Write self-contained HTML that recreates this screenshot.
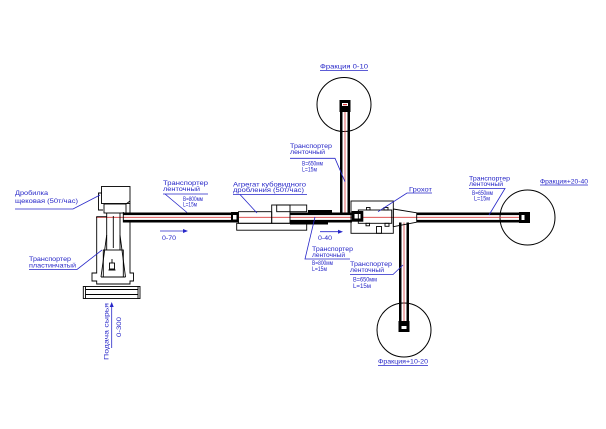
<!DOCTYPE html>
<html><head><meta charset="utf-8"><style>
html,body{margin:0;padding:0;background:#fff;}
svg{display:block;}
text{font-family:"Liberation Sans",sans-serif;font-size:6.2px;fill:#2626c8;}
</style></head><body>
<svg width="606" height="429" viewBox="0 0 606 429" xmlns="http://www.w3.org/2000/svg">
<rect width="606" height="429" fill="#fff"/>

<!-- circles -->
<g fill="none" stroke="#000" stroke-width="1">
<circle cx="344" cy="104.5" r="27"/>
<circle cx="527.5" cy="217.5" r="27.5"/>
<circle cx="404" cy="330" r="27"/>
</g>

<!-- horizontal conveyors -->
<g fill="#000">
<rect x="123" y="212.5" width="108" height="2.6"/>
<rect x="123" y="219.9" width="108" height="2.6"/>
<rect x="290" y="212.5" width="62" height="2.6"/>
<rect x="290" y="219.9" width="62" height="2.6"/>
<rect x="308" y="210" width="24" height="3"/>
<rect x="290" y="222" width="38" height="2.5"/>
<rect x="416.7" y="212.5" width="103" height="2.6"/>
<rect x="416.7" y="219.9" width="103" height="2.6"/>
<!-- vertical top -->
<rect x="340" y="100" width="2.5" height="112.5"/>
<rect x="347.5" y="100" width="2.5" height="112.5"/>
<!-- vertical bottom -->
<rect x="399" y="222.5" width="2.5" height="109"/>
<rect x="406.5" y="222.5" width="2.5" height="109"/>
</g>
<!-- red centerlines -->
<g stroke="#d83a3a" stroke-width="0.8" fill="none">
<line x1="96" y1="217.3" x2="530" y2="217.3"/>
<line x1="345" y1="100" x2="345" y2="212.5"/>
<line x1="404" y1="222.5" x2="404" y2="332"/>
</g>

<!-- end caps -->
<g>
<rect x="339.5" y="100" width="11" height="12" fill="#000"/>
<rect x="342" y="103" width="6" height="3" fill="#fff"/>
<rect x="343" y="104" width="4" height="1.2" fill="#d83a3a"/>
<rect x="519" y="212" width="11" height="11" fill="#000"/>
<rect x="521.5" y="215" width="3" height="5" fill="#fff"/>
<rect x="398.5" y="321" width="11" height="11" fill="#000"/>
<rect x="401.5" y="326" width="5" height="3" fill="#fff"/>
<rect x="231" y="212" width="7.5" height="10.5" fill="#000"/>
<rect x="233" y="215" width="3.5" height="4.5" fill="#fff"/>
<rect x="351.7" y="211" width="11.6" height="10.7" fill="#000"/>
<rect x="354.5" y="214" width="6" height="4.5" fill="#fff"/>
</g>

<!-- aggregate -->
<g fill="none" stroke="#000" stroke-width="0.9">
<rect x="238.5" y="211.7" width="33.2" height="11.6"/>
<rect x="271.7" y="205" width="18.3" height="18.3"/>
<rect x="276.7" y="205" width="30" height="6.7"/>
<rect x="236.7" y="223.3" width="70" height="6.9"/>
</g>

<!-- grohot -->
<g fill="none" stroke="#000" stroke-width="0.9">
<rect x="351" y="201" width="42.3" height="32.3"/>
<rect x="358.3" y="210" width="33.4" height="13.3"/>
<rect x="366.5" y="207.5" width="3.5" height="2.5"/>
<rect x="384" y="207.5" width="4" height="2.5"/>
<rect x="366" y="223.3" width="3.5" height="2.5"/>
<rect x="376.5" y="226.5" width="5" height="6.8"/>
<rect x="385" y="223.3" width="4" height="3"/>
<path d="M393.3,209 L416.7,212.8 M393.3,226.7 L416.7,222.2 M393.3,209 V226.7 M416.7,212.5 V222.5"/>
</g>

<!-- crusher -->
<g fill="none" stroke="#000" stroke-width="0.9">
<rect x="101.5" y="186.5" width="28.5" height="17"/>
<path d="M102,193 H98.5 V210 H103"/>
<rect x="104" y="204" width="22" height="9"/>
<path d="M126,204 L130,201"/>
<path d="M130,203.5 V212.5 M123.3,212 V222.5"/>
<path d="M106.7,216.7 H96.7 V273 H92 V281 H96.7 V284 H130 V281 H133.5 V273 H130 V222.5"/>
<path d="M106.7,213 V250 M120,213 V250 M113.3,216 V248"/>
<path d="M106.7,235 L101,277 M120,235 L125.5,277 M101,277 H125.5"/>
<rect x="103.3" y="250" width="20" height="27"/>
<rect x="109.5" y="263" width="5" height="6"/>
<path d="M108.5,270 H115.5 M112,259 V263"/>
<rect x="83.3" y="286.5" width="56.7" height="12"/>
<path d="M85.5,289.5 H138 M85.5,294.5 H138 M85.5,286.5 V298.5 M138,286.5 V298.5"/>
</g>

<!-- leader lines -->
<g stroke="#2626c8" stroke-width="0.8" fill="none">
<path d="M15,209 H73 L100,195"/>
<path d="M29,269.5 H77 L102,250"/>
<path d="M208,194 H163 M165,194 L187,212.5"/>
<path d="M233,194.5 H307 M240,194.5 L257,213"/>
<path d="M350,259 H305 L315,217"/>
<path d="M320,70.5 H368"/>
<path d="M290,158.3 H335 L345,181.7"/>
<path d="M432,193 H407 L378,211.7"/>
<path d="M469,188.5 H505 L489,215"/>
<path d="M540,185 H588"/>
<path d="M350,274.5 H393 L403,265"/>
<path d="M378,365.5 H428"/>
<path d="M160,231 H184"/>
<path d="M320,231.7 H339"/>
<path d="M111.7,348 V306"/>
</g>
<g fill="#2626c8">
<path d="M188,231 L183,229 L183,233 Z"/>
<path d="M343,231.7 L338,229.7 L338,233.7 Z"/>
<path d="M111.7,302 L109.7,307 L113.7,307 Z"/>
</g>

<!-- labels -->
<text x="15" y="195.2" textLength="33" lengthAdjust="spacingAndGlyphs">Дробилка</text>
<text x="15" y="203.2" textLength="63" lengthAdjust="spacingAndGlyphs">щековая (50т/час)</text>
<text x="29" y="261.2" textLength="42" lengthAdjust="spacingAndGlyphs">Транспортер</text>
<text x="29" y="267.6" textLength="47" lengthAdjust="spacingAndGlyphs">пластинчатый</text>

<text x="163" y="185.2" textLength="45" lengthAdjust="spacingAndGlyphs">Транспортер</text>
<text x="163" y="191.2" textLength="37" lengthAdjust="spacingAndGlyphs">ленточный</text>
<text x="183" y="201" textLength="20" lengthAdjust="spacingAndGlyphs">В=800мм</text>
<text x="183" y="206.5" textLength="14" lengthAdjust="spacingAndGlyphs">L=15м</text>
<text x="162" y="240.2" textLength="14" lengthAdjust="spacingAndGlyphs">0-70</text>

<text x="233" y="186.5" textLength="73" lengthAdjust="spacingAndGlyphs">Агрегат кубовидного</text>
<text x="233" y="192.2" textLength="71" lengthAdjust="spacingAndGlyphs">дробления (50т/час)</text>
<text x="318" y="240" textLength="14" lengthAdjust="spacingAndGlyphs">0-40</text>

<text x="312" y="251.2" textLength="41" lengthAdjust="spacingAndGlyphs">Транспортер</text>
<text x="312" y="257.2" textLength="33" lengthAdjust="spacingAndGlyphs">ленточный</text>
<text x="312" y="265.2" textLength="21" lengthAdjust="spacingAndGlyphs">В=800мм</text>
<text x="312" y="271.2" textLength="15" lengthAdjust="spacingAndGlyphs">L=15м</text>

<text x="320" y="68.7" textLength="48" lengthAdjust="spacingAndGlyphs">Фракция 0-10</text>
<text x="290" y="147.9" textLength="42" lengthAdjust="spacingAndGlyphs">Транспортер</text>
<text x="290" y="153.9" textLength="35" lengthAdjust="spacingAndGlyphs">ленточный</text>
<text x="302" y="165.5" textLength="21" lengthAdjust="spacingAndGlyphs">В=650мм</text>
<text x="302" y="171.5" textLength="15" lengthAdjust="spacingAndGlyphs">L=15м</text>

<text x="409" y="191.3" textLength="23" lengthAdjust="spacingAndGlyphs">Грохот</text>

<text x="469" y="180.5" textLength="41" lengthAdjust="spacingAndGlyphs">Транспортер</text>
<text x="469" y="186.2" textLength="34" lengthAdjust="spacingAndGlyphs">ленточный</text>
<text x="472" y="194.9" textLength="21" lengthAdjust="spacingAndGlyphs">В=650мм</text>
<text x="474" y="200.5" textLength="16" lengthAdjust="spacingAndGlyphs">L=15м</text>
<text x="540" y="183.5" textLength="48" lengthAdjust="spacingAndGlyphs">Фракция+20-40</text>

<text x="350" y="266.2" textLength="42" lengthAdjust="spacingAndGlyphs">Транспортер</text>
<text x="350" y="272.2" textLength="34" lengthAdjust="spacingAndGlyphs">ленточный</text>
<text x="353" y="281.5" textLength="24" lengthAdjust="spacingAndGlyphs">В=650мм</text>
<text x="353" y="288.2" textLength="18" lengthAdjust="spacingAndGlyphs">L=15м</text>
<text x="378" y="363.7" textLength="50" lengthAdjust="spacingAndGlyphs">Фракция+10-20</text>

<text transform="translate(108.5,360) rotate(-90)" x="0" y="0" textLength="57" lengthAdjust="spacingAndGlyphs">Подача сырья</text>
<text transform="translate(121,337) rotate(-90)" x="0" y="0" textLength="20" lengthAdjust="spacingAndGlyphs">0-300</text>
</svg>
</body></html>
